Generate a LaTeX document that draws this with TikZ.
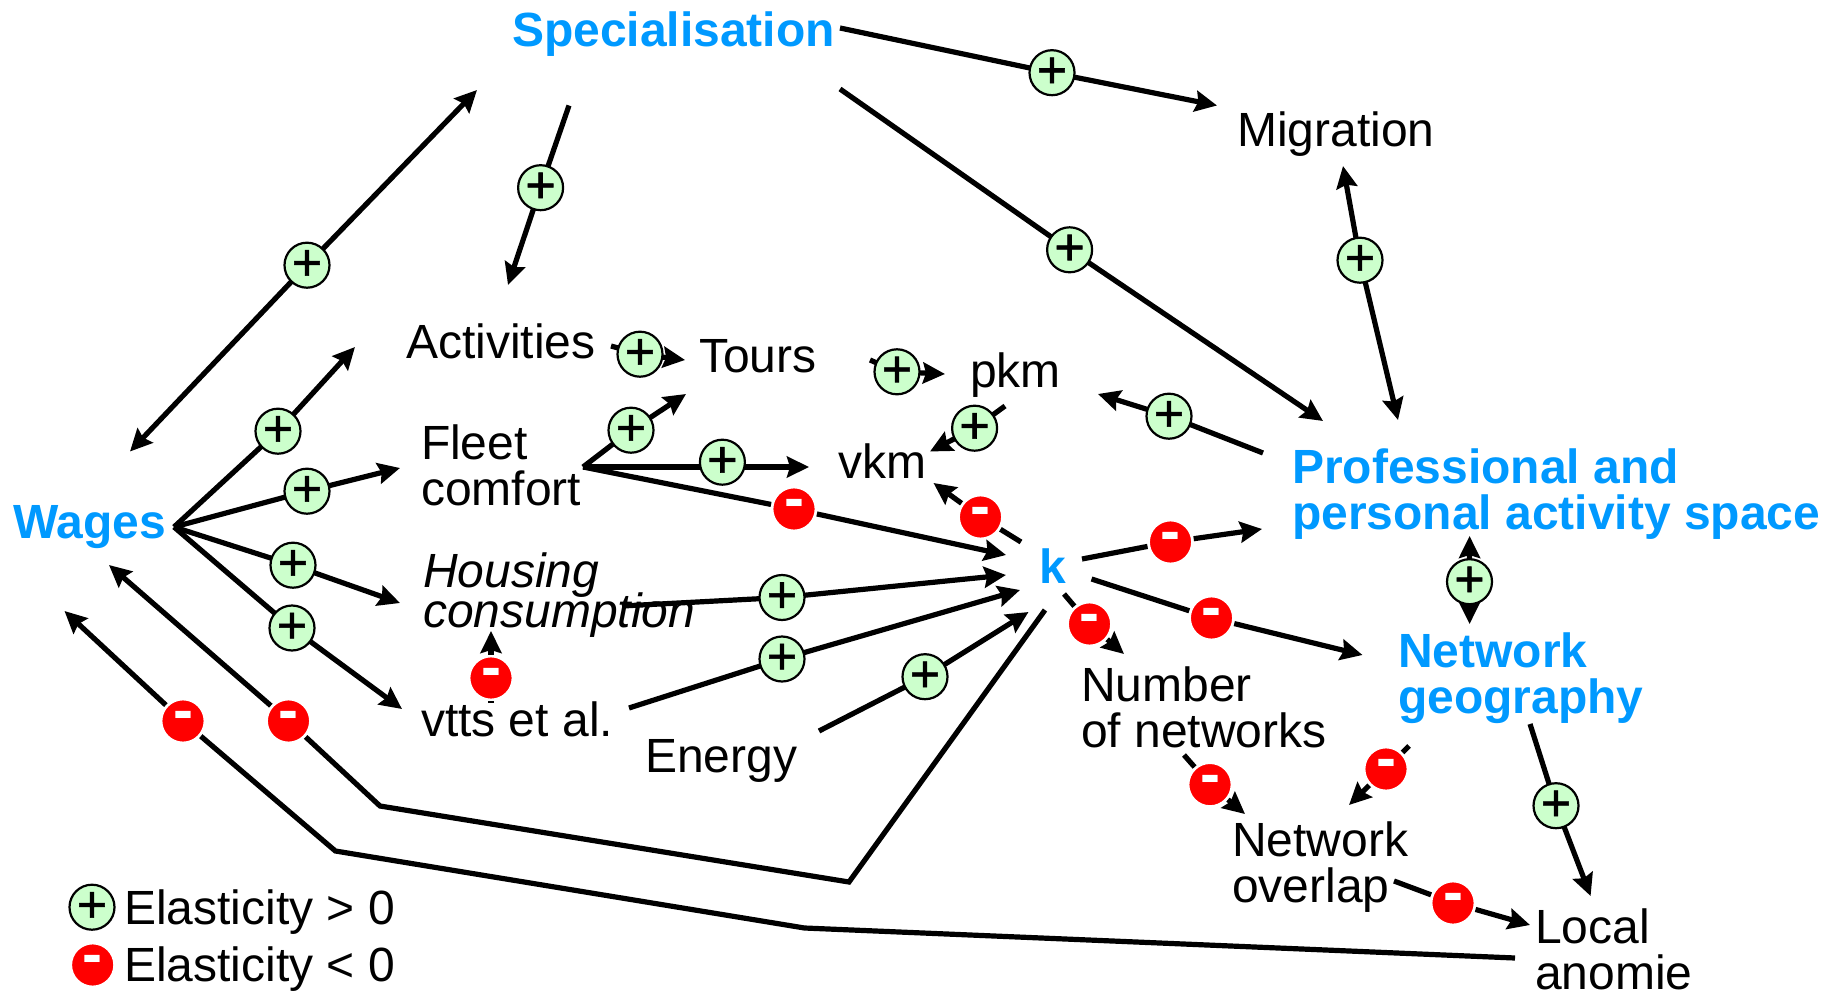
\documentclass[tikz,border=0pt]{standalone}
\usepackage{fontspec}
\setmainfont{Liberation Sans}
\newfontfamily\plusfont[FakeBold=1.2]{Liberation Sans}
\usetikzlibrary{arrows.meta}
\definecolor{hlblue}{HTML}{0099FF}
\definecolor{plusgreen}{HTML}{CCFFCC}
\definecolor{minusred}{HTML}{FF0000}
\tikzset{
  x=0.5pt,y=-0.5pt,
  lbl/.style={inner sep=0pt,outer sep=0pt,anchor=base west,align=left,font=\fontsize{24}{23}\selectfont},
  keylbl/.style={lbl,text=hlblue,font=\fontsize{24}{23}\selectfont\bfseries},
  tightlbl/.style={lbl,font=\fontsize{24}{23}\selectfont\itshape},
  conn/.style={line width=2.6pt,draw=black},
  arr/.style={conn,-{Stealth[length=11pt,width=10.5pt,inset=1.5pt]}},
  posb/.style={circle,draw=black,line width=1.1pt,fill=plusgreen,minimum size=22.5pt,inner sep=0pt,outer sep=0pt,
    font=\plusfont\fontsize{26}{26}\selectfont},
  negb/.style={circle,draw=white,line width=1.4pt,fill=minusred,text=white,minimum size=22pt,inner sep=0pt,outer sep=0.7pt,
    font=\fontsize{30}{30}\selectfont\bfseries},
}
\newcommand{\plusmark}{\raisebox{-3.6pt}{+}}
\newcommand{\minusmark}{\raisebox{-4.7pt}{-}}
\begin{document}
\begin{tikzpicture}
\useasboundingbox (0,0) rectangle (1839,994);
% labels
\node[keylbl] (spec) at (512,47) {Specialisation};
\node[lbl] (migr) at (1237,147) {Migration};
\node[lbl] (acti) at (406,358) {Activities};
\node[lbl] (tours) at (699,372) {Tours};
\node[lbl] (pkm) at (970,387) {pkm};
\node[lbl] (vkm) at (838,478) {vkm};
\node[lbl] (fleet) at (421,505) {Fleet\\comfort};
\node[keylbl] (wages) at (13,538) {Wages};
\node[tightlbl] (hous) at (423,627) {Housing\\[-3pt]consumption};
\node[lbl] (vtts) at (421,736) {vtts et al.};
\node[lbl] (energy) at (645,772) {Energy};
\node[keylbl] (k) at (1039,583) {k};
\node[lbl] (numb) at (1081,747) {Number\\of networks};
\node[keylbl] (geog) at (1398,713) {Network\\geography};
\node[lbl] (over) at (1232,902) {Network\\overlap};
\node[lbl] (local) at (1535,989) {Local\\anomie};
\node[keylbl] (prof) at (1292,529) {Professional and\\personal activity space};
\node[lbl] (leg1) at (124,924) {Elasticity > 0};
\node[lbl] (leg2) at (124,981) {Elasticity < 0};
% badges
\node[posb] (g1) at (1052,72.7) {\plusmark};
\node[posb] (g2) at (1069.6,249.8) {\plusmark};
\node[posb] (g3) at (540.6,187.7) {\plusmark};
\node[posb] (g4) at (307,265.2) {\plusmark};
\node[posb] (g5) at (278,431.2) {\plusmark};
\node[posb] (g6) at (307,491.2) {\plusmark};
\node[posb] (g7) at (293,565.2) {\plusmark};
\node[posb] (g8) at (292,628) {\plusmark};
\node[posb] (g9) at (640,354.2) {\plusmark};
\node[posb] (g10) at (897,371.8) {\plusmark};
\node[posb] (g11) at (974.6,428.2) {\plusmark};
\node[posb] (g12) at (631,430.2) {\plusmark};
\node[posb] (g14) at (1169,416.2) {\plusmark};
\node[posb] (g15) at (1360,260.2) {\plusmark};
\node[posb] (g16) at (782,597.5) {\plusmark};
\node[posb] (g17) at (782,659) {\plusmark};
\node[posb] (g18) at (925,676.7) {\plusmark};
\node[posb] (g19) at (1469.5,581.7) {\plusmark};
\node[posb] (g20) at (1556,805.7) {\plusmark};
\node[posb] (gl) at (92,907.2) {\plusmark};
\node[negb] (r1) at (794,509) {\minusmark};
\node[negb] (r2) at (980.5,517) {\minusmark};
\node[negb] (r3) at (1170.5,542) {\minusmark};
\node[negb] (r4) at (1211.5,618) {\minusmark};
\node[negb] (r5) at (1089.5,624) {\minusmark};
\node[negb] (r6) at (1210,784.6) {\minusmark};
\node[negb] (r7) at (1386,769) {\minusmark};
\node[negb] (r8) at (1453,903) {\minusmark};
\node[negb] (r9) at (491,678) {\minusmark};
\node[negb] (r10) at (288.5,721) {\minusmark};
\node[negb] (r11) at (183,721) {\minusmark};
\node[negb] (rl) at (92.7,965) {\minusmark};
% free ends
\coordinate (specA) at (840,28);
\coordinate (migrIn) at (1217,105.5);
\coordinate (specB) at (840,89);
\coordinate (profIn) at (1323,421);
\coordinate (specC) at (569,105.5);
\coordinate (actiIn) at (508,285);
\coordinate (specIn) at (477,90);
\coordinate (wagesIn) at (130,451.5);
\coordinate (hubW) at (174,527);
\coordinate (actiInW) at (355,347);
\coordinate (fleetIn) at (400,468);
\coordinate (housIn) at (400,603);
\coordinate (vttsIn) at (402,709);
\coordinate (actiOut) at (611,346);
\coordinate (toursIn) at (685,360);
\coordinate (toursOut) at (870,360);
\coordinate (pkmIn) at (945,374);
\coordinate (pkmOut) at (1005,406);
\coordinate (vkmIn) at (930,451.5);
\coordinate (hubF) at (583,467);
\coordinate (toursInF) at (686,394);
\coordinate (vkmInF) at (809,467);
\coordinate (kInF) at (1006,555);
\coordinate (profOut) at (1263,453);
\coordinate (pkmInP) at (1098,394);
\coordinate (migrEnd) at (1343,166);
\coordinate (profEnd) at (1398,420);
\coordinate (kOutV) at (1021,542);
\coordinate (vkmInK) at (933.5,483);
\coordinate (kOutP) at (1082,559);
\coordinate (profInK) at (1262,529);
\coordinate (kOutG) at (1091.5,579);
\coordinate (geogIn) at (1362.5,655);
\coordinate (kOutN) at (1064,594);
\coordinate (numbIn) at (1124,654);
\coordinate (numbOut) at (1184,755);
\coordinate (overIn) at (1245,814);
\coordinate (geogOutO) at (1409,746);
\coordinate (overInG) at (1349,805);
\coordinate (overOut) at (1394,881);
\coordinate (localIn) at (1530,925);
\coordinate (geogOutL) at (1530,724);
\coordinate (localInG) at (1590.6,896);
\coordinate (profUp) at (1469.6,536);
\coordinate (geogUp) at (1469.6,624);
\coordinate (housOut) at (622,606);
\coordinate (kInH) at (1006,575);
\coordinate (vttsOut) at (629,708);
\coordinate (kInV) at (1020,590);
\coordinate (energyOut) at (819,731);
\coordinate (kInE) at (1028.5,612);
\coordinate (vttsUp) at (491,703);
\coordinate (housInV) at (491,631);
\coordinate (kOutW) at (1045,610);
\coordinate (bendA) at (849,882);
\coordinate (bendB) at (380,806);
\coordinate (wagesInK) at (109,565);
\coordinate (localOut) at (1515,958);
\coordinate (bendC) at (804.5,928);
\coordinate (bendD) at (335.4,851);
\coordinate (wagesInL) at (64.5,611);
% connectors
\draw[conn] (specA) -- (g1); \draw[arr] (g1) -- (migrIn);
\draw[conn] (specB) -- (g2); \draw[arr] (g2) -- (profIn);
\draw[conn] (specC) -- (g3); \draw[arr] (g3) -- (actiIn);
\draw[arr] (g4) -- (specIn); \draw[arr] (g4) -- (wagesIn);
\draw[conn] (hubW) -- (g5); \draw[arr] (g5) -- (actiInW);
\draw[conn] (hubW) -- (g6); \draw[arr] (g6) -- (fleetIn);
\draw[conn] (hubW) -- (g7); \draw[arr] (g7) -- (housIn);
\draw[conn] (hubW) -- (g8); \draw[arr] (g8) -- (vttsIn);
\draw[conn] (actiOut) -- (g9); \draw[arr] (g9) -- (toursIn);
\draw[conn] (toursOut) -- (g10); \draw[arr] (g10) -- (pkmIn);
\draw[conn] (pkmOut) -- (g11); \draw[arr] (g11) -- (vkmIn);
\draw[conn] (hubF) -- (g12); \draw[arr] (g12) -- (toursInF);
\draw[arr] (hubF) -- (vkmInF);
\draw[conn] (hubF) -- (r1); \draw[arr] (r1) -- (kInF);
\draw[conn] (profOut) -- (g14); \draw[arr] (g14) -- (pkmInP);
\draw[arr] (g15) -- (migrEnd); \draw[arr] (g15) -- (profEnd);
\draw[conn] (kOutV) -- (r2); \draw[arr] (r2) -- (vkmInK);
\draw[conn] (kOutP) -- (r3); \draw[arr] (r3) -- (profInK);
\draw[conn] (kOutG) -- (r4); \draw[arr] (r4) -- (geogIn);
\draw[conn] (kOutN) -- (r5); \draw[arr] (r5) -- (numbIn);
\draw[conn] (numbOut) -- (r6); \draw[arr] (r6) -- (overIn);
\draw[conn] (geogOutO) -- (r7); \draw[arr] (r7) -- (overInG);
\draw[conn] (overOut) -- (r8); \draw[arr] (r8) -- (localIn);
\draw[conn] (geogOutL) -- (g20); \draw[arr] (g20) -- (localInG);
\draw[arr] (g19) -- (profUp); \draw[arr] (g19) -- (geogUp);
\draw[conn] (housOut) -- (g16); \draw[arr] (g16) -- (kInH);
\draw[conn] (vttsOut) -- (g17); \draw[arr] (g17) -- (kInV);
\draw[conn] (energyOut) -- (g18); \draw[arr] (g18) -- (kInE);
\draw[conn] (vttsUp) -- (r9); \draw[arr] (r9) -- (housInV);
\draw[conn] (kOutW) -- (bendA) -- (bendB) -- (r10); \draw[arr] (r10) -- (wagesInK);
\draw[conn] (localOut) -- (bendC) -- (bendD) -- (r11); \draw[arr] (r11) -- (wagesInL);
\node[posb] (g13) at (722.4,462.2) {\plusmark};
\end{tikzpicture}
\end{document}
